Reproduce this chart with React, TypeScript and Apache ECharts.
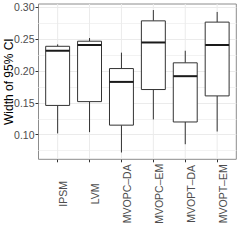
import React, { useEffect, useRef } from "react";
import * as echarts from "echarts";

const categories = ["IPSM", "LVM", "MVOPC–DA", "MVOPC–EM", "MVOPT–DA", "MVOPT–EM"];
const whiskerLow = [0.102, 0.104, 0.072, 0.124, 0.085, 0.105];
const q1 = [0.146, 0.152, 0.115, 0.171, 0.12, 0.161];
const median = [0.232, 0.241, 0.183, 0.245, 0.192, 0.241];
const q3 = [0.239, 0.247, 0.204, 0.279, 0.213, 0.277];
const whiskerHigh = [0.242, 0.252, 0.229, 0.296, 0.232, 0.293];
const yTickValues = [0.1, 0.15, 0.2, 0.25, 0.3];
const yMin = 0.0613;
const yMax = 0.3055;

const FONT = "'Liberation Sans', Arial, Helvetica, sans-serif";

export default function App() {
  const ref = useRef<HTMLDivElement>(null);
  useEffect(() => {
    if (!ref.current) return;
    const chart = echarts.init(ref.current, undefined, { renderer: "svg" });
    const L = 38.5;
    const T = 4;
    const W = 197.8;
    const H = 155.3;
    const band = W / 6.2;
    const data = categories.map((_, i) => [i, whiskerLow[i], q1[i], median[i], q3[i], whiskerHigh[i]]);
    chart.setOption({
      animation: false,
      textStyle: { fontFamily: FONT },
      grid: [
        { left: L, top: T, width: W, height: H, show: true, borderColor: "#8c8c8c", borderWidth: 1, backgroundColor: "#fff", containLabel: false, outerBoundsMode: "none" },
        { left: L + 0.1 * band, top: T, width: W - 0.2 * band, height: H, containLabel: false, outerBoundsMode: "none" },
      ],
      xAxis: [
        { gridIndex: 0, type: "value", min: 0.4, max: 6.6, show: false },
        {
          gridIndex: 1,
          type: "category",
          data: categories,
          boundaryGap: true,
          axisLine: { show: false },
          axisTick: { show: true, alignWithLabel: true, length: 3, lineStyle: { color: "#333", width: 1 } },
          axisLabel: {
            rotate: 90,
            interval: 0,
            fontSize: 10.5,
            color: "#4d4d4d",
            fontFamily: FONT,
            align: "center",
            verticalAlign: "top",
            margin: 34.5,
          },
          splitLine: { show: false },
        },
      ],
      yAxis: [
        {
          gridIndex: 0,
          type: "value",
          min: yMin,
          max: yMax,
          name: "Width of 95% CI",
          nameLocation: "middle",
          nameGap: 24,
          nameMoveOverlap: false,
          nameTextStyle: { fontSize: 12, color: "#000", fontFamily: FONT },
          axisLine: { show: false },
          axisTick: { show: true, length: 3, customValues: yTickValues, lineStyle: { color: "#333", width: 1 } },
          axisLabel: {
            customValues: yTickValues,
            fontSize: 10.5,
            color: "#4d4d4d",
            fontFamily: FONT,
            margin: 4,
            hideOverlap: false,
            formatter: (v: number) => v.toFixed(2),
          },
          splitLine: { show: true, lineStyle: { color: "#ebebeb", width: 1 } },
          minorTick: { show: false, splitNumber: 2 },
          minorSplitLine: { show: true, lineStyle: { color: "#f2f2f2", width: 1 } },
        },
        { gridIndex: 1, type: "value", min: yMin, max: yMax, show: false },
      ],
      series: [
        {
          type: "custom",
          xAxisIndex: 1,
          yAxisIndex: 1,
          data,
          encode: { x: 0, y: [1, 2, 3, 4, 5] },
          renderItem: (params: any, api: any) => {
            const i = api.value(0);
            const lo = api.coord([i, api.value(1)]);
            const b1 = api.coord([i, api.value(2)]);
            const md = api.coord([i, api.value(3)]);
            const b3 = api.coord([i, api.value(4)]);
            const hi = api.coord([i, api.value(5)]);
            const top = api.coord([i, yMax]);
            const bot = api.coord([i, yMin]);
            const bw = api.size([1, 0])[0] * 0.75;
            const x = lo[0];
            const stroke = "#333";
            return {
              type: "group",
              children: [
                { type: "line", shape: { x1: x, y1: top[1], x2: x, y2: bot[1] }, style: { stroke: "#ebebeb", lineWidth: 1 } },
                { type: "line", shape: { x1: x, y1: hi[1], x2: x, y2: b3[1] }, style: { stroke, lineWidth: 1 } },
                { type: "line", shape: { x1: x, y1: b1[1], x2: x, y2: lo[1] }, style: { stroke, lineWidth: 1 } },
                { type: "rect", shape: { x: x - bw / 2, y: b3[1], width: bw, height: b1[1] - b3[1] }, style: { fill: "#fff", stroke, lineWidth: 1 } },
                { type: "line", shape: { x1: x - bw / 2, y1: md[1], x2: x + bw / 2, y2: md[1] }, style: { stroke: "#1a1a1a", lineWidth: 2 } },
              ],
            };
          },
        },
      ],
    });
    return () => chart.dispose();
  }, []);
  return <div ref={ref} style={{ position: "absolute", left: 0, top: 0, width: 240, height: 240 }} />;
}
